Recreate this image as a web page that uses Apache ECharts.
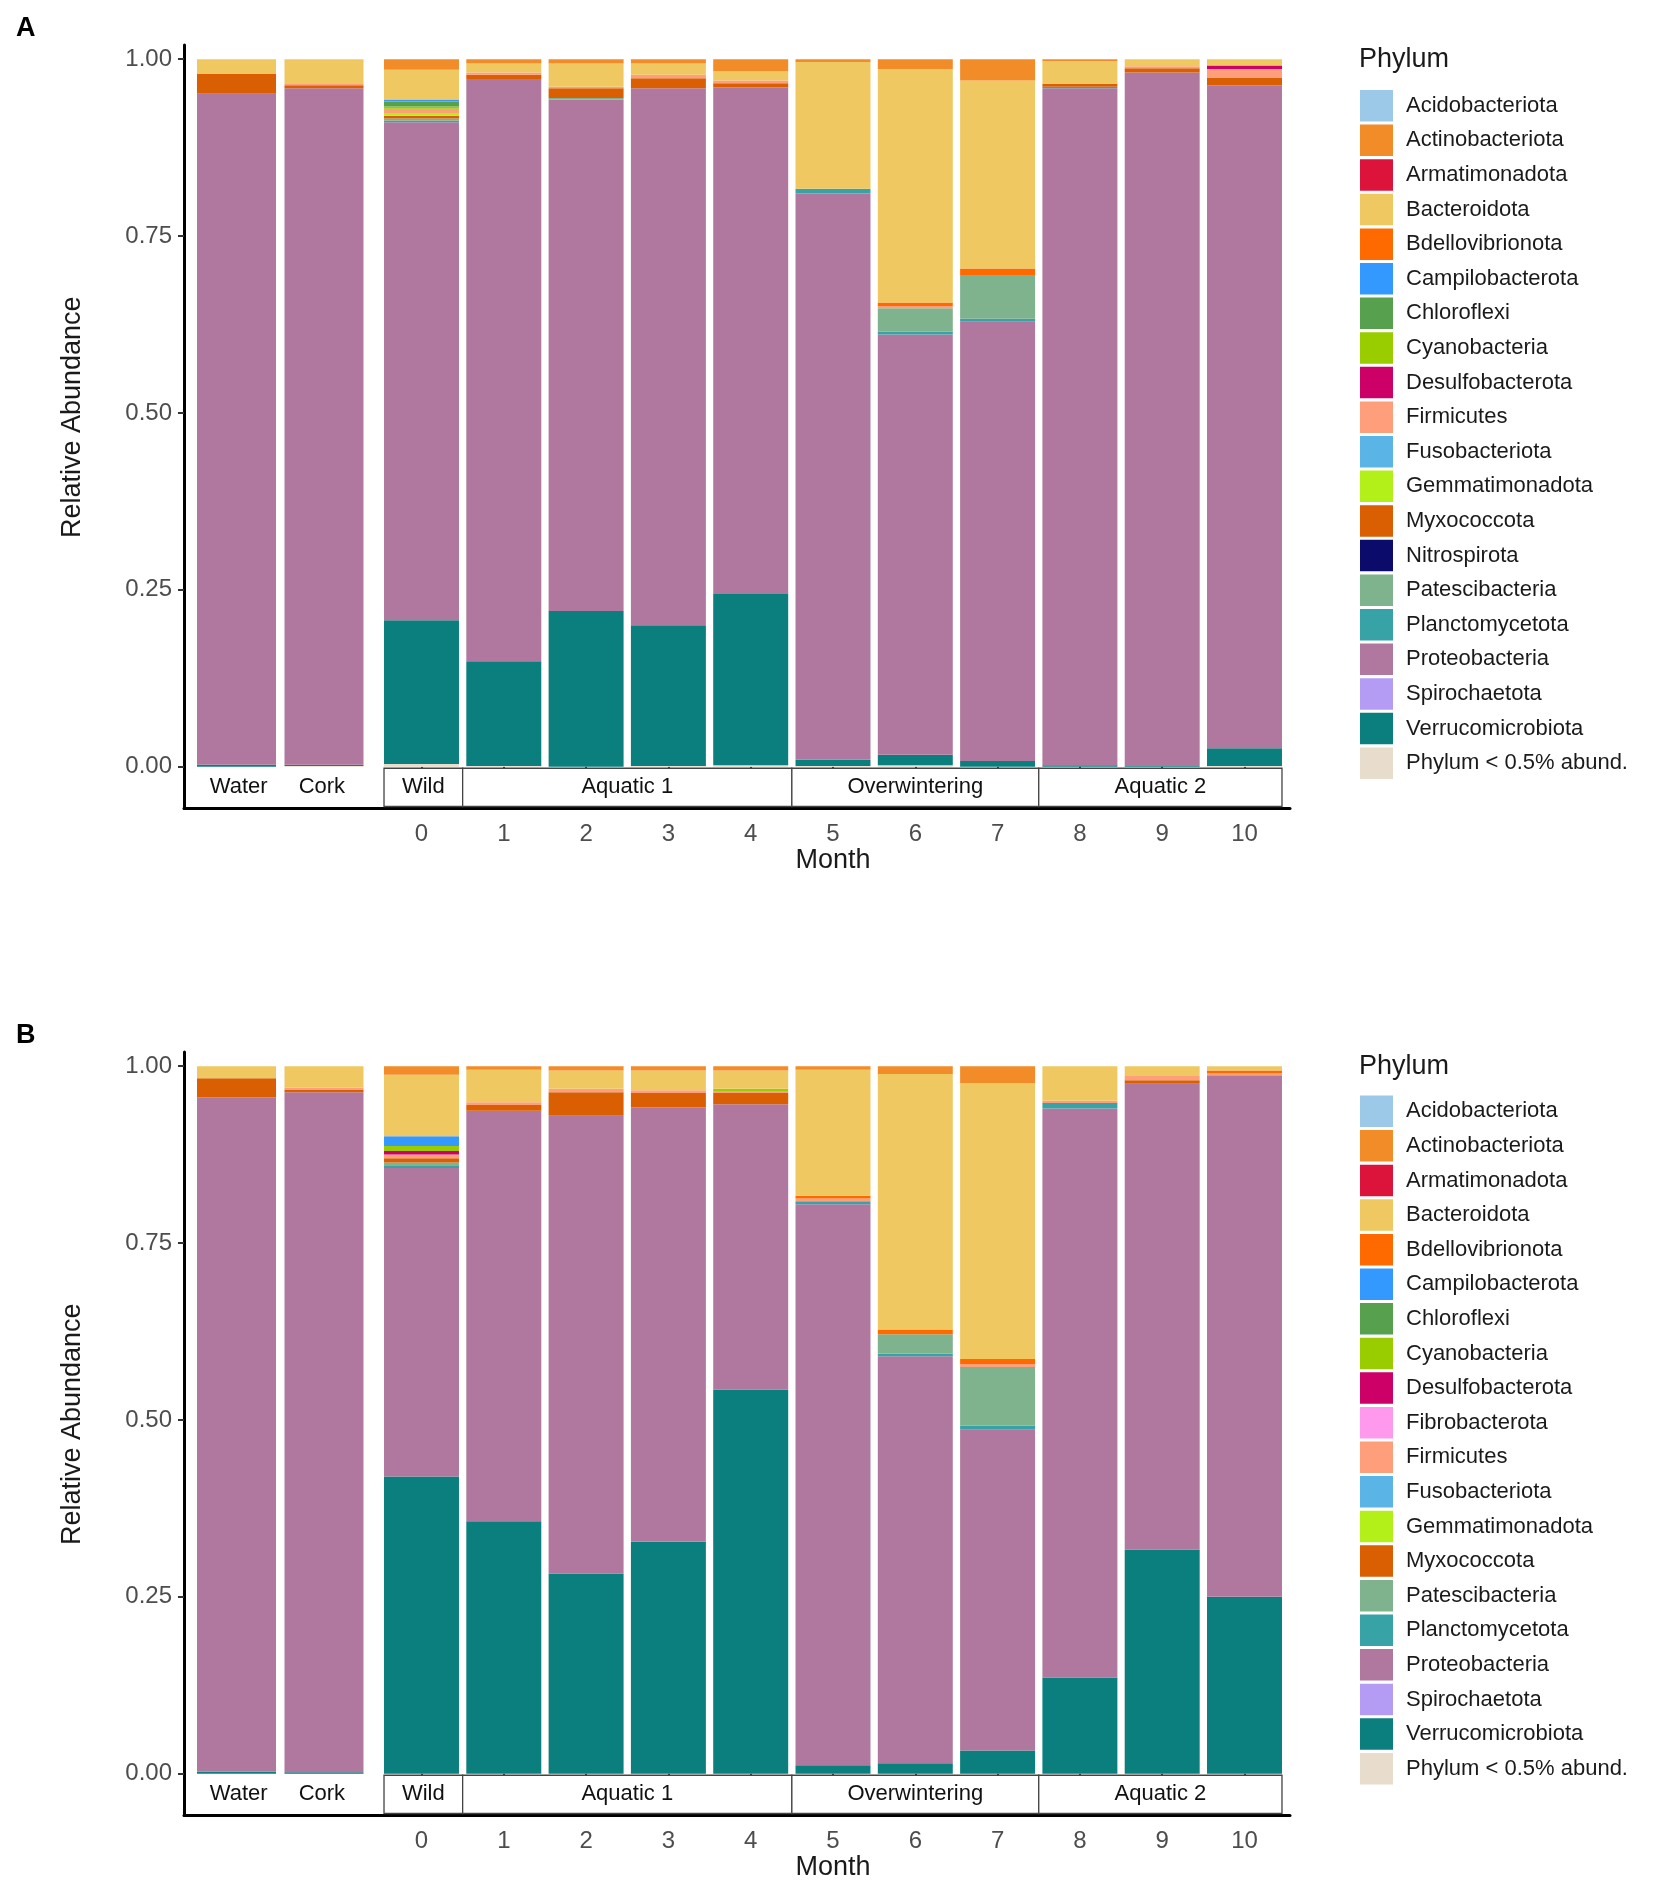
<!DOCTYPE html>
<html><head><meta charset="utf-8">
<script src="https://cdn.jsdelivr.net/npm/echarts@6/dist/echarts.min.js"></script>
<style>html,body{margin:0;padding:0;background:#fff}#c{width:1654px;height:1892px}</style>
</head><body><div id="c"></div>
<script>
// ---------- categories ----------
const controlSamples = ['Water', 'Cork'];
const months = ['0','1','2','3','4','5','6','7','8','9','10'];
const facetLabels = ['Wild', 'Aquatic 1', 'Overwintering', 'Aquatic 2'];
const facetStart = [0, 1, 5, 8];
const facetEnd = [0, 4, 7, 10];
const yTicks = [0, 0.25, 0.5, 0.75, 1];

const phylaA = ['Acidobacteriota','Actinobacteriota','Armatimonadota','Bacteroidota','Bdellovibrionota','Campilobacterota','Chloroflexi','Cyanobacteria','Desulfobacterota','Firmicutes','Fusobacteriota','Gemmatimonadota','Myxococcota','Nitrospirota','Patescibacteria','Planctomycetota','Proteobacteria','Spirochaetota','Verrucomicrobiota','Phylum < 0.5% abund.'];
const phylaB = ['Acidobacteriota','Actinobacteriota','Armatimonadota','Bacteroidota','Bdellovibrionota','Campilobacterota','Chloroflexi','Cyanobacteria','Desulfobacterota','Fibrobacterota','Firmicutes','Fusobacteriota','Gemmatimonadota','Myxococcota','Patescibacteria','Planctomycetota','Proteobacteria','Spirochaetota','Verrucomicrobiota','Phylum < 0.5% abund.'];

// ---------- panel A values (Water, Cork, month 0..10) ----------
const A_Acidobacteriota   = [0,0,0,0,0,0,0,0,0,0,0,0,0];
const A_Actinobacteriota  = [0,0,0.015,0.006,0.006,0.006,0.017,0.004,0.014,0.030,0.003,0,0];
const A_Armatimonadota    = [0,0,0,0,0,0,0,0,0,0,0,0,0];
const A_Bacteroidota      = [0.020,0.035,0.042,0.013,0.033,0.016,0.013,0.179,0.330,0.266,0.032,0.010,0.009];
const A_Bdellovibrionota  = [0,0,0,0,0,0,0,0,0.005,0.009,0,0,0];
const A_Campilobacterota  = [0,0,0.003,0,0,0,0,0,0,0,0,0,0];
const A_Chloroflexi       = [0,0,0.007,0,0,0,0,0,0,0,0,0,0];
const A_Cyanobacteria     = [0,0,0.003,0,0,0,0,0,0,0,0,0,0];
const A_Desulfobacterota  = [0,0,0,0,0,0,0,0,0,0,0,0,0.005];
const A_Firmicutes        = [0.001,0.002,0.007,0.003,0.002,0.005,0.004,0,0.003,0,0,0.003,0.012];
const A_Fusobacteriota    = [0,0,0,0,0,0,0,0,0,0,0,0,0];
const A_Gemmatimonadota   = [0,0,0.003,0,0,0,0,0,0,0,0,0,0];
const A_Myxococcota       = [0.028,0.004,0.004,0.006,0.014,0.014,0.006,0,0,0,0.004,0.006,0.011];
const A_Nitrospirota      = [0,0,0,0,0,0,0,0,0,0,0,0,0];
const A_Patescibacteria   = [0,0,0.003,0,0.002,0,0,0,0.033,0.062,0,0,0];
const A_Planctomycetota   = [0,0,0.002,0,0,0,0,0.007,0.004,0.004,0.002,0,0];
const A_Proteobacteria    = [0.948,0.956,0.704,0.823,0.723,0.759,0.716,0.800,0.594,0.621,0.957,0.980,0.937];
const A_Spirochaetota     = [0,0,0,0,0,0,0,0,0,0,0,0,0];
const A_Verrucomicrobiota = [0.003,0.002,0.203,0.148,0.220,0.199,0.242,0.009,0.015,0.008,0.002,0.001,0.025];
const A_Other             = [0,0.001,0.004,0.001,0,0.001,0.002,0.001,0.002,0,0,0,0.001];

// ---------- panel B values ----------
const B_Acidobacteriota   = [0,0,0,0,0,0,0,0,0,0,0,0,0];
const B_Actinobacteriota  = [0,0,0.012,0.005,0.006,0.006,0.006,0.005,0.011,0.024,0,0,0];
const B_Armatimonadota    = [0,0,0,0,0,0,0,0,0,0,0,0,0];
const B_Bacteroidota      = [0.017,0.030,0.087,0.046,0.026,0.028,0.026,0.178,0.361,0.390,0.049,0.014,0.006];
const B_Bdellovibrionota  = [0,0,0,0,0,0,0,0.004,0.007,0.007,0,0,0.004];
const B_Campilobacterota  = [0,0,0.014,0,0,0,0,0,0,0,0,0,0];
const B_Chloroflexi       = [0,0,0,0,0,0,0,0,0,0,0,0,0];
const B_Cyanobacteria     = [0,0,0.007,0,0,0,0.003,0,0,0,0,0,0];
const B_Desulfobacterota  = [0,0,0.005,0,0,0,0,0,0,0,0,0,0];
const B_Fibrobacterota    = [0,0,0,0,0,0,0,0,0,0,0,0,0];
const B_Firmicutes        = [0,0.003,0.005,0.004,0.005,0.004,0.003,0.004,0,0.004,0.003,0.006,0.003];
const B_Fusobacteriota    = [0,0,0,0,0,0,0,0,0,0,0,0,0];
const B_Gemmatimonadota   = [0,0,0,0,0,0,0,0,0,0,0,0,0];
const B_Myxococcota       = [0.027,0.004,0.006,0.008,0.033,0.020,0.016,0,0,0,0,0.005,0];
const B_Patescibacteria   = [0,0,0.004,0,0,0,0,0,0.027,0.083,0,0,0];
const B_Planctomycetota   = [0,0,0.004,0,0,0,0,0.004,0.004,0.006,0.008,0,0];
const B_Proteobacteria    = [0.953,0.961,0.436,0.580,0.647,0.614,0.403,0.793,0.575,0.453,0.804,0.658,0.737];
const B_Spirochaetota     = [0,0,0,0,0,0,0,0,0,0,0,0,0];
const B_Verrucomicrobiota = [0.003,0.002,0.420,0.357,0.283,0.328,0.543,0.012,0.015,0.033,0.136,0.317,0.250];
const B_Other             = [0,0,0,0,0,0,0,0,0,0,0,0,0];

const tableA = {
  'Acidobacteriota':A_Acidobacteriota,'Actinobacteriota':A_Actinobacteriota,'Armatimonadota':A_Armatimonadota,
  'Bacteroidota':A_Bacteroidota,'Bdellovibrionota':A_Bdellovibrionota,'Campilobacterota':A_Campilobacterota,
  'Chloroflexi':A_Chloroflexi,'Cyanobacteria':A_Cyanobacteria,'Desulfobacterota':A_Desulfobacterota,
  'Firmicutes':A_Firmicutes,'Fusobacteriota':A_Fusobacteriota,'Gemmatimonadota':A_Gemmatimonadota,
  'Myxococcota':A_Myxococcota,'Nitrospirota':A_Nitrospirota,'Patescibacteria':A_Patescibacteria,
  'Planctomycetota':A_Planctomycetota,'Proteobacteria':A_Proteobacteria,'Spirochaetota':A_Spirochaetota,
  'Verrucomicrobiota':A_Verrucomicrobiota,'Phylum < 0.5% abund.':A_Other
};
const tableB = {
  'Acidobacteriota':B_Acidobacteriota,'Actinobacteriota':B_Actinobacteriota,'Armatimonadota':B_Armatimonadota,
  'Bacteroidota':B_Bacteroidota,'Bdellovibrionota':B_Bdellovibrionota,'Campilobacterota':B_Campilobacterota,
  'Chloroflexi':B_Chloroflexi,'Cyanobacteria':B_Cyanobacteria,'Desulfobacterota':B_Desulfobacterota,
  'Fibrobacterota':B_Fibrobacterota,'Firmicutes':B_Firmicutes,'Fusobacteriota':B_Fusobacteriota,
  'Gemmatimonadota':B_Gemmatimonadota,'Myxococcota':B_Myxococcota,'Patescibacteria':B_Patescibacteria,
  'Planctomycetota':B_Planctomycetota,'Proteobacteria':B_Proteobacteria,'Spirochaetota':B_Spirochaetota,
  'Verrucomicrobiota':B_Verrucomicrobiota,'Phylum < 0.5% abund.':B_Other
};

// ---------- styles ----------
const colorMap = {
  'Acidobacteriota':'#9DC9E8','Actinobacteriota':'#F28C28','Armatimonadota':'#DC143C','Bacteroidota':'#F0C862',
  'Bdellovibrionota':'#FF6A00','Campilobacterota':'#3399FF','Chloroflexi':'#56A04E','Cyanobacteria':'#9ACD00',
  'Desulfobacterota':'#CC0066','Fibrobacterota':'#FF99EE','Firmicutes':'#FF9E7A','Fusobacteriota':'#5AB4E6',
  'Gemmatimonadota':'#B3F01A','Myxococcota':'#D95F02','Nitrospirota':'#0B0B6B','Patescibacteria':'#7FB38E',
  'Planctomycetota':'#38A3A6','Proteobacteria':'#B0789F','Spirochaetota':'#B49CF4','Verrucomicrobiota':'#0A7F7D',
  'Phylum < 0.5% abund.':'#E8DCCD'
};
const FONT = '"Liberation Sans", Arial, Helvetica, sans-serif';
const Y_MIN = -0.059, Y_MAX = 1.02;
const GAP_L = 0.097, GAP_R = 0.089;

const chart = echarts.init(document.getElementById('c'), null, {renderer: 'canvas'});

function stripRenderer(labels, withBox, lastIdx, gapFrac) {
  return function (params, api) {
    const s = api.value(0), e = api.value(1);
    const band = api.size([1, 0])[0];
    const barW = band * (1 - gapFrac);
    const p0 = api.coord([s, 0]);
    const p1 = api.coord([e, 0]);
    const pb = api.coord([s, Y_MIN]);
    const x0 = (s === 0) ? p0[0] - barW / 2 : p0[0] - band / 2;
    const x1 = (e === lastIdx) ? p1[0] + barW / 2 : p1[0] + band / 2;
    const y0 = p0[1] + 1.5, y1 = pb[1] - 2;
    const children = [];
    if (withBox) {
      children.push({type: 'rect', shape: {x: x0, y: y0, width: x1 - x0, height: y1 - y0},
        style: {fill: '#fff', stroke: '#444', lineWidth: 1.3}});
    }
    children.push({type: 'text', style: {text: labels[params.dataIndex], x: (x0 + x1) / 2, y: (y0 + y1) / 2,
      align: 'center', verticalAlign: 'middle', fontSize: 22, fill: '#111', fontFamily: FONT}});
    return {type: 'group', children: children};
  };
}

const grids = [], xAxes = [], yAxes = [], series = [], legends = [], titles = [];

function buildPanel(p, top, phyla, table, letter, legendTop) {
  const H = 763.5;
  const base = grids.length;
  grids.push({left: 184, top: top, width: 1106, height: H});
  grids.push({left: 192.75, top: top, width: 175, height: H});
  grids.push({left: 380.35, top: top, width: 905.3, height: H});
  // frame axes
  xAxes.push({gridIndex: base, type: 'value', min: 0, max: 1,
    axisLine: {show: true, onZero: false, lineStyle: {color: '#000', width: 3}},
    axisTick: {show: false}, axisLabel: {show: false}, splitLine: {show: false}});
  yAxes.push({gridIndex: base, type: 'value', min: Y_MIN, max: Y_MAX,
    axisLine: {show: true, onZero: false, lineStyle: {color: '#000', width: 3}},
    axisTick: {show: true, length: 6, lineStyle: {color: '#333', width: 2}, customValues: yTicks},
    axisLabel: {show: true, customValues: yTicks, formatter: v => v.toFixed(2), fontSize: 24, color: '#4d4d4d', margin: 12, fontFamily: FONT},
    splitLine: {show: false},
    name: 'Relative Abundance', nameLocation: 'middle', nameRotate: 90, nameGap: 98,
    nameTextStyle: {fontSize: 27, color: '#1a1a1a', fontFamily: FONT, padding: [0, 0, 0, 19]}});
  // left (controls)
  xAxes.push({gridIndex: base + 1, type: 'category', data: controlSamples, show: false});
  yAxes.push({gridIndex: base + 1, type: 'value', min: Y_MIN, max: Y_MAX, show: false});
  // right (months)
  xAxes.push({gridIndex: base + 2, type: 'category', data: months,
    axisLine: {show: false},
    axisTick: {show: true, alignWithLabel: true, interval: 0, length: 6, lineStyle: {color: '#333', width: 2}},
    axisLabel: {interval: 0, fontSize: 24, color: '#4d4d4d', margin: 14, fontFamily: FONT},
    name: 'Month', nameLocation: 'middle', nameGap: 38,
    nameTextStyle: {fontSize: 27, color: '#1a1a1a', fontFamily: FONT}});
  yAxes.push({gridIndex: base + 2, type: 'value', min: Y_MIN, max: Y_MAX, show: false});

  // stacked bars: bottom of stack = last legend entry
  const order = phyla.slice().reverse();
  order.forEach(name => {
    const vals = table[name];
    const common = {type: 'bar', name: name, itemStyle: {color: colorMap[name]},
      emphasis: {disabled: true}, silent: true, animation: false};
    series.push(Object.assign({}, common, {xAxisIndex: base + 1, yAxisIndex: base + 1,
      stack: letter + 'L', barCategoryGap: (GAP_L * 100) + '%', data: vals.slice(0, 2)}));
    series.push(Object.assign({}, common, {xAxisIndex: base + 2, yAxisIndex: base + 2,
      stack: letter + 'R', barCategoryGap: (GAP_R * 100) + '%', data: vals.slice(2)}));
  });

  // strips
  series.push({type: 'custom', name: 'strip' + letter + 'L', xAxisIndex: base + 1, yAxisIndex: base + 1,
    silent: true, animation: false, encode: {x: 0, y: 2},
    data: controlSamples.map((c, i) => [i, i, 0]),
    renderItem: stripRenderer(controlSamples, false, 1, GAP_L)});
  series.push({type: 'custom', name: 'strip' + letter + 'R', xAxisIndex: base + 2, yAxisIndex: base + 2,
    silent: true, animation: false, encode: {x: 0, y: 2},
    data: facetStart.map((s, i) => [s, facetEnd[i], 0]),
    renderItem: stripRenderer(facetLabels, true, months.length - 1, GAP_R)});

  legends.push({orient: 'vertical', left: 1355, top: legendTop, itemWidth: 33, itemHeight: 31.5,
    itemGap: 3.1, icon: 'rect', selectedMode: false, data: phyla,
    itemStyle: {borderWidth: 0},
    textStyle: {fontSize: 22, color: '#1a1a1a', fontFamily: FONT, padding: [0, 0, 0, 8]}});
  titles.push({text: letter, left: 11, top: top - 35, textStyle: {fontSize: 27, fontWeight: 'bold', color: '#000', fontFamily: FONT}});
  titles.push({text: 'Phylum', left: 1354, top: top - 4, textStyle: {fontSize: 27, fontWeight: 'normal', color: '#1a1a1a', fontFamily: FONT}});
}

buildPanel(0, 45, phylaA, tableA, 'A', 85);
buildPanel(1, 1052, phylaB, tableB, 'B', 1090.5);

chart.setOption({
  animation: false,
  backgroundColor: '#fff',
  textStyle: {fontFamily: FONT},
  title: titles,
  legend: legends,
  grid: grids,
  xAxis: xAxes,
  yAxis: yAxes,
  series: series
});
</script></body></html>
